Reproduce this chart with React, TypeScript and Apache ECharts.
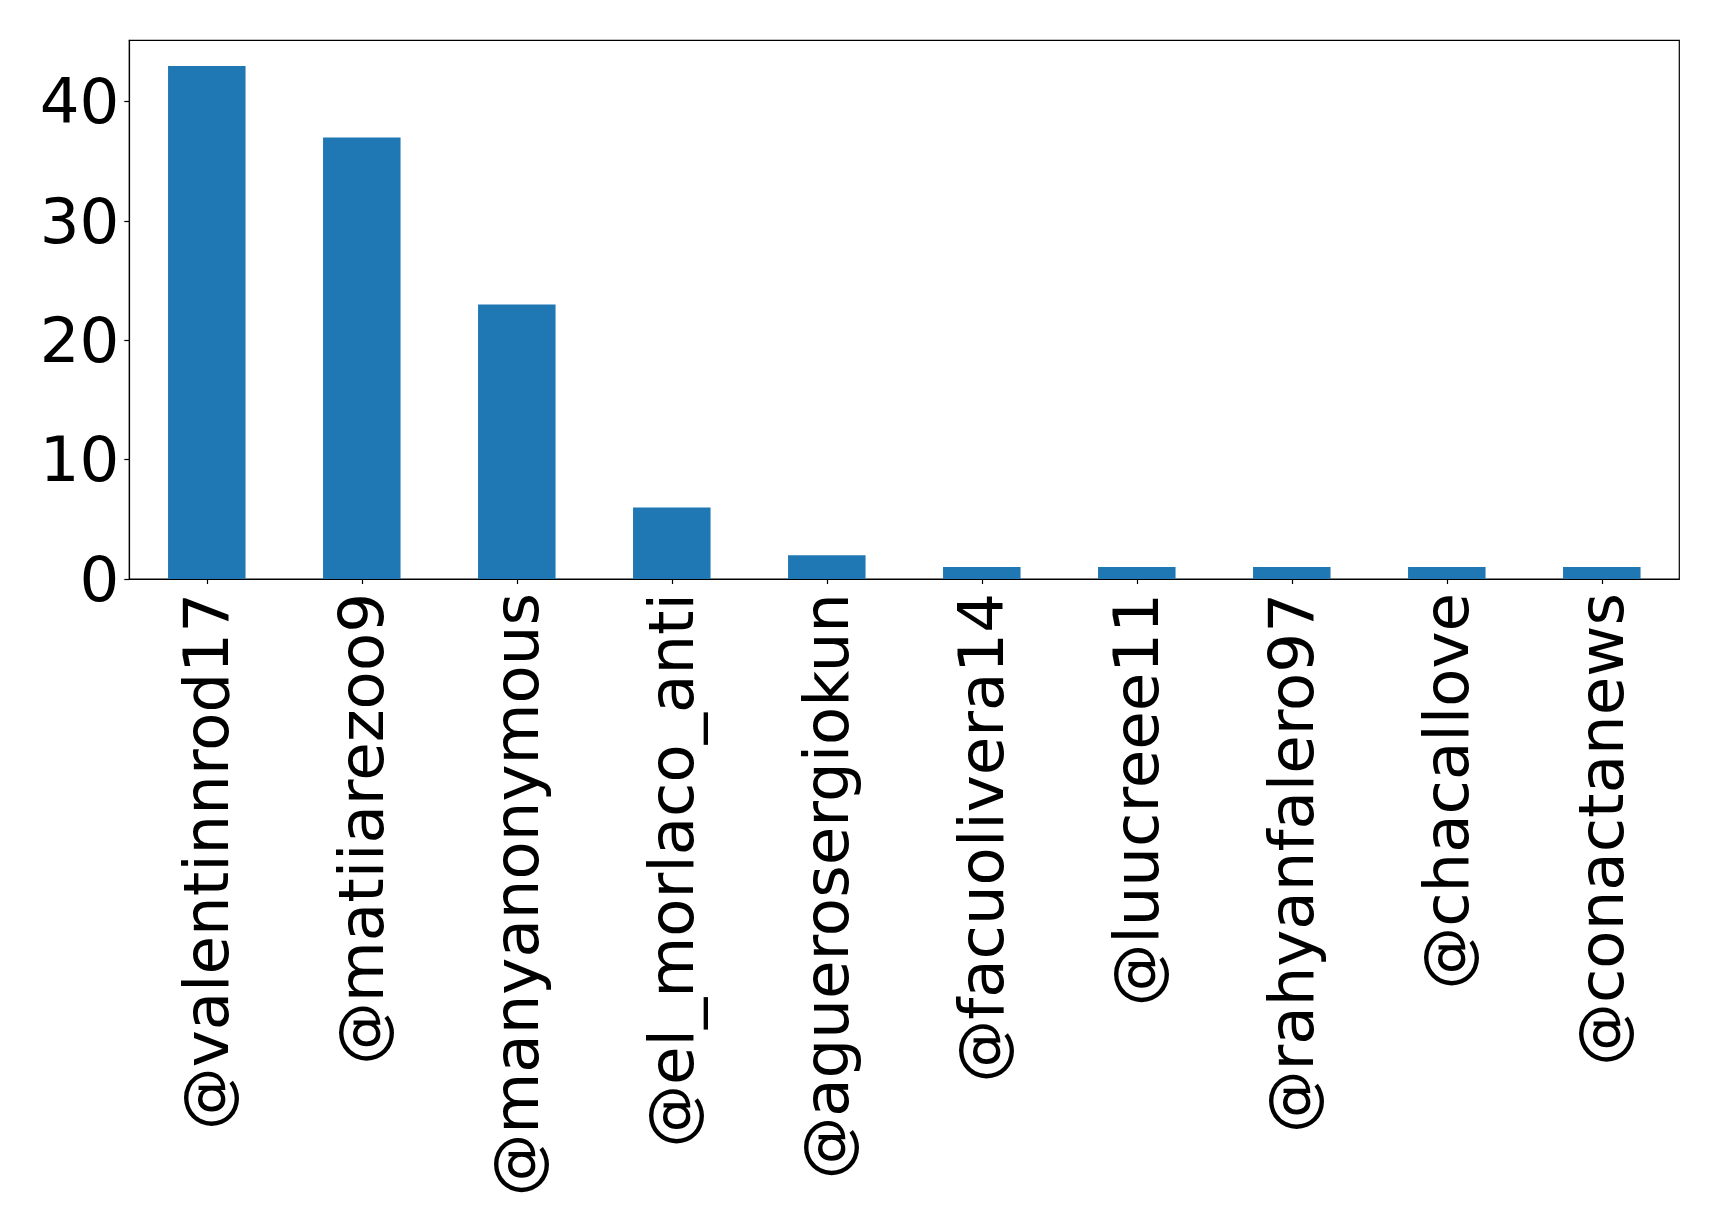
import React, { useEffect, useRef } from "react";
import * as echarts from "echarts";

const categories = [
  "@valentinnrod17",
  "@matiiarezoo9",
  "@manyanonymous",
  "@el_morlaco_anti",
  "@aguerosergiokun",
  "@facuolivera14",
  "@luucreee11",
  "@rahyanfalero97",
  "@chacallove",
  "@conactanews",
];
const values = [43, 37, 23, 6, 2, 1, 1, 1, 1, 1];
const yTicks = [0, 10, 20, 30, 40];

export default function App() {
  const ref = useRef<HTMLDivElement>(null);
  useEffect(() => {
    document.body.style.margin = "0";
    if (!ref.current) return;
    const chart = echarts.init(ref.current, undefined, { renderer: "svg" });
    const font = "DejaVu Sans";
    chart.setOption({
      animation: false,
      backgroundColor: "#ffffff",
      grid: {
        left: 129.3,
        top: 40.3,
        right: 39.7,
        bottom: 651,
        show: true,
        borderColor: "#000000",
        borderWidth: 1.2,
        backgroundColor: "transparent",
        containLabel: false,
        outerBoundsMode: "none",
      },
      xAxis: {
        type: "category",
        data: categories,
        boundaryGap: true,
        axisLine: { show: true, lineStyle: { color: "#000", width: 1.2 } },
        axisTick: { show: true, alignWithLabel: true, length: 5, lineStyle: { color: "#000", width: 1.2 } },
        axisLabel: {
          rotate: 90,
          interval: 0,
          margin: 14,
          fontSize: 62.6,
          fontFamily: font,
          color: "#000",
        },
        splitLine: { show: false },
      },
      yAxis: {
        type: "value",
        min: 0,
        max: 45.15,
        interval: 10,
        axisLine: { show: true, lineStyle: { color: "#000", width: 1.2 } },
        axisTick: { show: true, length: 5, customValues: yTicks, lineStyle: { color: "#000", width: 1.2 } },
        axisLabel: {
          customValues: yTicks,
          margin: 10,
          fontSize: 62.6,
          fontFamily: font,
          color: "#000",
        },
        splitLine: { show: false },
      },
      series: [
        {
          type: "bar",
          data: values,
          barWidth: "50%",
          itemStyle: { color: "#1f77b4" },
        },
      ],
    });
    return () => chart.dispose();
  }, []);
  return <div ref={ref} style={{ width: 1719, height: 1230 }} />;
}
